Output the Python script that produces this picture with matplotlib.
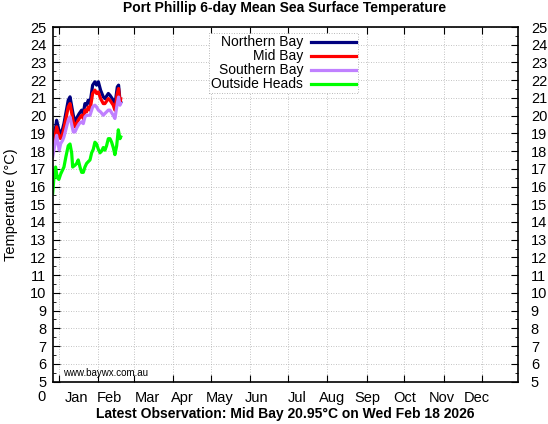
import numpy as np
import matplotlib
matplotlib.use("Agg")
import matplotlib.pyplot as plt
from matplotlib.ticker import FixedLocator, MultipleLocator

plt.rcParams['font.family'] = ['Liberation Sans', 'DejaVu Sans']

# days since Jan 1 (Jan 1 = 0)
bay_days = [-5.2, -2.1, 0.0, 1.1, 2.7, 3.7, 7.1, 8.5, 11.1, 12.4, 14.3, 15.8, 17.7, 19.0,
            20.3, 21.6, 22.9, 24.3, 26.4, 28.2, 29.5, 30.9, 32.7, 34.8, 36.1, 38.8, 40.1,
            42.7, 44.0, 45.9, 46.9, 48.0, 48.6]
northern = [18.14, 19.74, 19.08, 18.99, 19.27, 19.55, 20.87, 21.06, 20.02, 19.65, 19.93,
            20.12, 20.31, 20.12, 20.68, 20.59, 20.87, 20.68, 21.72, 21.91, 21.72, 21.91,
            21.43, 21.06, 20.96, 21.25, 21.15, 20.87, 20.59, 21.62, 21.72, 20.87, 20.78]
mid = [17.95, 19.37, 18.80, 18.71, 18.99, 19.27, 20.49, 20.68, 19.65, 19.37, 19.65,
       19.84, 20.02, 19.84, 20.31, 20.21, 20.49, 20.31, 21.25, 21.44, 21.25, 21.34,
       20.96, 20.68, 20.68, 20.96, 20.87, 20.59, 20.31, 21.25, 21.53, 20.68, 20.95]
southern = [17.67, 18.89, 18.05, 18.42, 18.61, 18.80, 19.74, 19.93, 19.08, 19.08, 19.37,
            19.55, 19.65, 19.55, 19.93, 20.02, 20.02, 20.02, 20.49, 20.59, 20.49, 20.31,
            20.21, 20.02, 20.12, 20.31, 20.31, 20.02, 19.84, 20.68, 21.05, 20.59, 20.68]

heads_days = [-5.2, -4.2, -2.9, -1.6, -0.3, 1.1, 2.4, 3.7, 5.3, 7.1, 8.5, 9.8, 10.6, 12.4,
              13.7, 15.0, 16.4, 17.7, 19.0, 20.3, 21.6, 22.9, 24.3, 25.6, 26.9, 28.2, 29.5,
              30.9, 32.2, 33.5, 34.8, 36.1, 37.4, 38.8, 40.1, 41.4, 42.7, 44.0, 45.4, 46.7,
              48.0, 48.6]
heads = [15.6, 16.5, 17.1, 16.5, 16.4, 16.7, 16.9, 17.1, 17.7, 18.3, 18.4, 17.9, 17.1, 17.2,
         17.3, 17.5, 17.1, 16.8, 16.8, 17.1, 17.3, 17.4, 17.5, 17.9, 18.1, 18.5, 18.4, 18.1,
         17.9, 18.0, 18.2, 18.05, 18.3, 18.7, 18.7, 18.5, 18.2, 17.8, 18.3, 19.2, 18.7, 18.8]

month_starts = [0, 31, 59, 90, 120, 151, 181, 212, 243, 273, 304, 334]
month_names = ['Jan', 'Feb', 'Mar', 'Apr', 'May', 'Jun', 'Jul', 'Aug', 'Sep', 'Oct', 'Nov', 'Dec']
label_pos = [14, 40, 69.4, 97, 127, 156, 188, 216, 244, 273.4, 302.6, 330.3]

fig = plt.figure(figsize=(5.48, 4.24), dpi=100)
ax = fig.add_axes([0.0973, 0.1002, 0.8485, 0.8361])

ax.plot(bay_days, northern, color='#00007f', lw=2.3, label='Northern Bay')
ax.plot(bay_days, mid, color='#ff0000', lw=2.3, label='Mid Bay')
ax.plot(bay_days, southern, color='#c080ff', lw=2.3, label='Southern Bay')
ax.plot(heads_days, heads, color='#00ff00', lw=2.3, label='Outside Heads')

ax.set_xlim(-4.7, 363)
ax.set_ylim(5, 25)

ax.xaxis.set_major_locator(FixedLocator(month_starts))
ax.xaxis.set_minor_locator(FixedLocator(label_pos))
ax.set_xticklabels([])
ax.set_xticklabels(month_names, minor=True)
ax.tick_params(axis='x', which='major', direction='in', length=5, top=True, bottom=True, width=0.8)
ax.tick_params(axis='x', which='minor', length=0, pad=7, labelsize=10.5)

# left and right temperature scales (right labels sit further out)
ax.yaxis.set_major_locator(MultipleLocator(1))
ax.yaxis.set_minor_locator(MultipleLocator(0.5))
ax.tick_params(axis='y', which='major', direction='in', length=5, left=True, right=False,
               labelsize=10.5, width=0.8, pad=5)
ax.tick_params(axis='y', which='minor', direction='in', length=2.5, left=True, right=False, width=0.6)

ax2 = ax.twinx()
ax2.set_ylim(5, 25)
ax2.yaxis.set_major_locator(MultipleLocator(1))
ax2.yaxis.set_minor_locator(MultipleLocator(0.5))
ax2.tick_params(axis='y', which='major', direction='in', length=5, labelsize=10.5, width=0.8, pad=9)
ax2.tick_params(axis='y', which='minor', direction='in', length=2.5, width=0.6)
for s in ax2.spines.values():
    s.set_visible(False)

ax.grid(True, which='major', color='#b0b0b0', linestyle=(0, (1, 2)), linewidth=0.6)
for s in ax.spines.values():
    s.set_linewidth(1.2)

ax.text(-0.025, -0.045, '0', transform=ax.transAxes, ha='center', va='center', fontsize=10.5)
ax.text(0.02, 0.025, 'www.baywx.com.au', transform=ax.transAxes, ha='left', va='center', fontsize=7)

ax.set_ylabel('Temperature (°C)', fontsize=10.5, labelpad=9)
fig.text(0.52, 0.98, 'Port Phillip 6-day Mean Sea Surface Temperature',
         ha='center', va='center', fontsize=10, fontweight='bold')
fig.text(0.52, 0.024, 'Latest Observation: Mid Bay 20.95°C on Wed Feb 18 2026',
         ha='center', va='center', fontsize=10, fontweight='bold')

leg = ax.legend(loc='upper center', bbox_to_anchor=(0.495, 0.99), markerfirst=False,
                fontsize=10, handlelength=3.2, labelspacing=0.0, borderpad=0.15,
                handletextpad=0.6, fancybox=False, framealpha=1, borderaxespad=0.2)
leg.get_frame().set_edgecolor('#a0a0a0')
leg.get_frame().set_linestyle((0, (1, 2)))
leg.get_frame().set_linewidth(0.6)

fig.savefig('out.png', dpi=100)
